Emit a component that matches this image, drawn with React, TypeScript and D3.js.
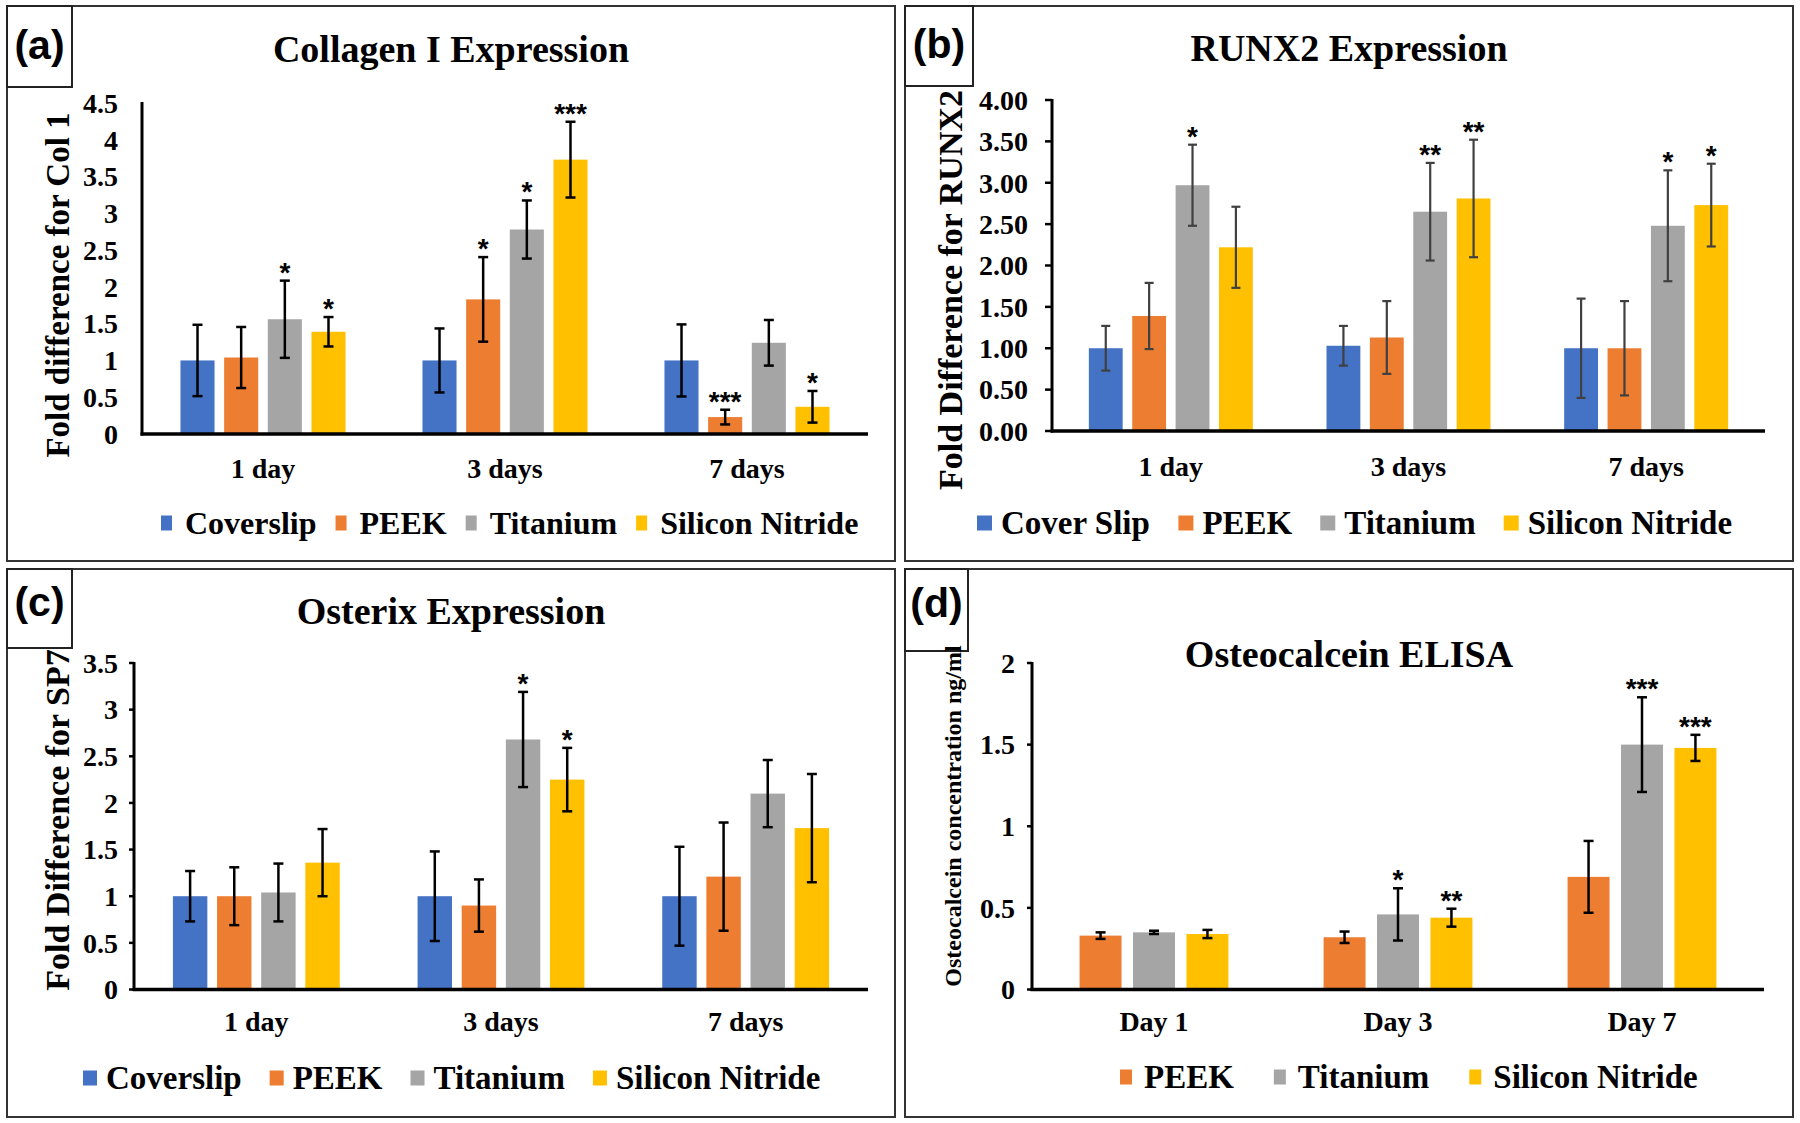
import React from "react";
import * as d3 from "d3";

// ---------- colours ----------
const C_COVER = "#4472C4";
const C_PEEK = "#ED7D31";
const C_TI = "#A5A5A5";
const C_SIN = "#FFC000";

// ---------- panel (a) Collagen I ----------
const daysA = ["1 day", "3 days", "7 days"];
const colCoverslip = [1.0, 1.0, 1.0];
const colPeek = [1.04, 1.83, 0.23];
const colTitanium = [1.56, 2.78, 1.24];
const colSiN = [1.39, 3.73, 0.37];
const colCoverslipErr = [0.485, 0.435, 0.49];
const colPeekErr = [0.415, 0.575, 0.1];
const colTitaniumErr = [0.525, 0.395, 0.31];
const colSiNErr = [0.2, 0.515, 0.215];
const colCoverslipSig = ["", "", ""];
const colPeekSig = ["", "*", "***"];
const colTitaniumSig = ["*", "*", ""];
const colSiNSig = ["*", "***", "*"];
const colTicks = [0, 0.5, 1, 1.5, 2, 2.5, 3, 3.5, 4, 4.5];

// ---------- panel (b) RUNX2 ----------
const daysB = ["1 day", "3 days", "7 days"];
const runxCoverSlip = [1.0, 1.03, 1.0];
const runxPeek = [1.39, 1.13, 1.0];
const runxTitanium = [2.97, 2.65, 2.48];
const runxSiN = [2.22, 2.81, 2.73];
const runxCoverSlipErr = [0.27, 0.24, 0.6];
const runxPeekErr = [0.4, 0.44, 0.57];
const runxTitaniumErr = [0.49, 0.59, 0.67];
const runxSiNErr = [0.49, 0.71, 0.5];
const runxCoverSlipSig = ["", "", ""];
const runxPeekSig = ["", "", ""];
const runxTitaniumSig = ["*", "**", "*"];
const runxSiNSig = ["", "**", "*"];
const runxTicks = [0, 0.5, 1, 1.5, 2, 2.5, 3, 3.5, 4];

// ---------- panel (c) Osterix ----------
const daysC = ["1 day", "3 days", "7 days"];
const spCoverslip = [1.0, 1.0, 1.0];
const spPeek = [1.0, 0.9, 1.21];
const spTitanium = [1.04, 2.68, 2.1];
const spSiN = [1.36, 2.25, 1.73];
const spCoverslipErr = [0.27, 0.48, 0.53];
const spPeekErr = [0.31, 0.28, 0.58];
const spTitaniumErr = [0.31, 0.51, 0.36];
const spSiNErr = [0.36, 0.34, 0.58];
const spCoverslipSig = ["", "", ""];
const spPeekSig = ["", "", ""];
const spTitaniumSig = ["", "*", ""];
const spSiNSig = ["", "*", ""];
const spTicks = [0, 0.5, 1, 1.5, 2, 2.5, 3, 3.5];

// ---------- panel (d) Osteocalcein ELISA ----------
const daysD = ["Day 1", "Day 3", "Day 7"];
const ocPeek = [0.33, 0.32, 0.69];
const ocTitanium = [0.35, 0.46, 1.5];
const ocSiN = [0.34, 0.44, 1.48];
const ocPeekErr = [0.02, 0.035, 0.22];
const ocTitaniumErr = [0.01, 0.16, 0.29];
const ocSiNErr = [0.025, 0.055, 0.08];
const ocPeekSig = ["", "", ""];
const ocTitaniumSig = ["", "*", "***"];
const ocSiNSig = ["", "**", "***"];
const ocTicks = [0, 0.5, 1, 1.5, 2];

const SERIF = "'Liberation Serif', 'Times New Roman', serif";
const SANS = "'Liberation Sans', Arial, sans-serif";

let measureCtx: CanvasRenderingContext2D | null = null;
function textWidth(t: string, size: number): number {
  if (!measureCtx && typeof document !== "undefined") {
    measureCtx = document.createElement("canvas").getContext("2d");
  }
  if (!measureCtx) return t.length * size * 0.5;
  measureCtx.font = `bold ${size}px ${SERIF}`;
  return measureCtx.measureText(t).width;
}

type Series = { name: string; color: string; values: number[]; errors: number[]; sig: string[] };

type PanelSpec = {
  frame: [number, number, number, number];
  letter: string;
  letterBox: [number, number, number, number];
  letterBaseline: number;
  title: string;
  titleBaseline: number;
  ylabel: string;
  ylabelX: number;
  ylabelY: number;
  ylabelSize: number;
  cats: string[];
  series: Series[];
  yMax: number;
  ticks: number[];
  tickFmt: (v: number) => string;
  axisX: number;
  axisRight: number;
  axisTop: number;
  axisBottom: number;
  padIn: number;
  padOut: number;
  barPad: number;
  tickLen: number;
  tickGap: number;
  errColor: string;
  errWidth: number;
  capHalf: number;
  xLabelBaseline: number;
  legend: { x: number; cy: number; mw: number; mh: number; tgap: number; igap: number; size: number };
};

function Panel({ p }: { p: PanelSpec }) {
  const x0 = d3
    .scaleBand<string>()
    .domain(p.cats)
    .range([p.axisX, p.axisRight])
    .paddingInner(p.padIn)
    .paddingOuter(p.padOut);
  const x1 = d3
    .scaleBand<string>()
    .domain(p.series.map((s) => s.name))
    .range([0, x0.bandwidth()])
    .paddingInner(p.barPad);
  const y = d3.scaleLinear().domain([0, p.yMax]).range([p.axisBottom, p.axisTop]);
  const [fx0, fy0, fx1, fy1] = p.frame;
  const [lx0, ly0, lx1, ly1] = p.letterBox;

  // legend layout
  let lx = p.legend.x;
  const legendItems = p.series.map((s) => {
    const item = { s, mx: lx, tx: lx + p.legend.mw + p.legend.tgap };
    lx = item.tx + textWidth(s.name, p.legend.size) + p.legend.igap;
    return item;
  });

  return (
    <g>
      <rect x={fx0} y={fy0} width={fx1 - fx0} height={fy1 - fy0} fill="white" stroke="#333" strokeWidth={2} />
      <rect x={lx0} y={ly0} width={lx1 - lx0} height={ly1 - ly0} fill="white" stroke="#222" strokeWidth={2} />
      <text
        x={(lx0 + lx1) / 2}
        y={p.letterBaseline}
        textAnchor="middle"
        fontFamily={SANS}
        fontWeight="bold"
        fontSize={41}
      >
        {p.letter}
      </text>
      <text
        x={(fx0 + fx1) / 2}
        y={p.titleBaseline}
        textAnchor="middle"
        fontFamily={SERIF}
        fontWeight="bold"
        fontSize={38}
      >
        {p.title}
      </text>
      <text
        transform={`translate(${p.ylabelX},${p.ylabelY}) rotate(-90)`}
        textAnchor="middle"
        dy="0.35em"
        fontFamily={SERIF}
        fontWeight="bold"
        fontSize={p.ylabelSize}
      >
        {p.ylabel}
      </text>
      {/* y ticks */}
      {p.ticks.map((t) => (
        <g key={t}>
          {p.tickLen > 0 && (
            <line x1={p.axisX - p.tickLen} x2={p.axisX} y1={y(t)} y2={y(t)} stroke="#000" strokeWidth={2.5} />
          )}
          <text
            x={p.axisX - p.tickGap}
            y={y(t)}
            dy="0.35em"
            textAnchor="end"
            fontFamily={SERIF}
            fontWeight="bold"
            fontSize={28}
          >
            {p.tickFmt(t)}
          </text>
        </g>
      ))}
      {/* bars */}
      {p.series.map((s) =>
        p.cats.map((c, i) => {
          const bx = (x0(c) as number) + (x1(s.name) as number);
          const bw = x1.bandwidth();
          return (
            <rect key={s.name + c} x={bx} y={y(s.values[i])} width={bw} height={y(0) - y(s.values[i])} fill={s.color} />
          );
        })
      )}
      {/* error bars and significance */}
      {p.series.map((s) =>
        p.cats.map((c, i) => {
          const cx = (x0(c) as number) + (x1(s.name) as number) + x1.bandwidth() / 2;
          const top = y(s.values[i] + s.errors[i]);
          const bot = y(s.values[i] - s.errors[i]);
          return (
            <g key={"e" + s.name + c}>
              <line x1={cx} x2={cx} y1={top} y2={bot} stroke={p.errColor} strokeWidth={p.errWidth} />
              <line x1={cx - p.capHalf} x2={cx + p.capHalf} y1={top} y2={top} stroke={p.errColor} strokeWidth={p.errWidth} />
              <line x1={cx - p.capHalf} x2={cx + p.capHalf} y1={bot} y2={bot} stroke={p.errColor} strokeWidth={p.errWidth} />
              {s.sig[i] && (
                <text x={cx} y={top + 1} textAnchor="middle" fontFamily={SANS} fontWeight="bold" fontSize={28}>
                  {s.sig[i]}
                </text>
              )}
            </g>
          );
        })
      )}
      {/* axes */}
      <line x1={p.axisX} x2={p.axisX} y1={p.axisTop - 1} y2={p.axisBottom + 1.5} stroke="#000" strokeWidth={3} />
      <line x1={p.axisX - 1.5} x2={p.axisRight} y1={p.axisBottom} y2={p.axisBottom} stroke="#000" strokeWidth={3.5} />
      {p.cats.map((c) => (
        <text
          key={c}
          x={(x0(c) as number) + x0.bandwidth() / 2}
          y={p.xLabelBaseline}
          textAnchor="middle"
          fontFamily={SERIF}
          fontWeight="bold"
          fontSize={28}
        >
          {c}
        </text>
      ))}
      {/* legend */}
      {legendItems.map(({ s, mx, tx }) => (
        <g key={"l" + s.name}>
          <rect x={mx} y={p.legend.cy - p.legend.mh / 2} width={p.legend.mw} height={p.legend.mh} fill={s.color} />
          <text
            x={tx}
            y={p.legend.cy}
            dy="0.33em"
            fontFamily={SERIF}
            fontWeight="bold"
            fontSize={p.legend.size}
          >
            {s.name}
          </text>
        </g>
      ))}
    </g>
  );
}

const fmt1 = (v: number) => String(v);
const fmt2 = (v: number) => v.toFixed(2);

const panels: PanelSpec[] = [
  {
    frame: [7, 6, 895, 561],
    letter: "(a)",
    letterBox: [7, 6, 72, 87],
    letterBaseline: 59,
    title: "Collagen I Expression",
    titleBaseline: 62,
    ylabel: "Fold difference for Col 1",
    ylabelX: 57,
    ylabelY: 285,
    ylabelSize: 33,
    cats: daysA,
    series: [
      { name: "Coverslip", color: C_COVER, values: colCoverslip, errors: colCoverslipErr, sig: colCoverslipSig },
      { name: "PEEK", color: C_PEEK, values: colPeek, errors: colPeekErr, sig: colPeekSig },
      { name: "Titanium", color: C_TI, values: colTitanium, errors: colTitaniumErr, sig: colTitaniumSig },
      { name: "Silicon Nitride", color: C_SIN, values: colSiN, errors: colSiNErr, sig: colSiNSig },
    ],
    yMax: 4.5,
    ticks: colTicks,
    tickFmt: fmt1,
    axisX: 142,
    axisRight: 868,
    axisTop: 103,
    axisBottom: 434,
    padIn: 0.318,
    padOut: 0.159,
    barPad: 0.22,
    tickLen: 0,
    tickGap: 24,
    errColor: "#000",
    errWidth: 2.5,
    capHalf: 5,
    xLabelBaseline: 478,
    legend: { x: 161, cy: 523, mw: 11, mh: 15, tgap: 13, igap: 19, size: 32 },
  },
  {
    frame: [905, 6, 1793, 561],
    letter: "(b)",
    letterBox: [905, 6, 973, 86],
    letterBaseline: 58,
    title: "RUNX2 Expression",
    titleBaseline: 61,
    ylabel: "Fold Difference for RUNX2",
    ylabelX: 950,
    ylabelY: 290,
    ylabelSize: 34,
    cats: daysB,
    series: [
      { name: "Cover Slip", color: C_COVER, values: runxCoverSlip, errors: runxCoverSlipErr, sig: runxCoverSlipSig },
      { name: "PEEK", color: C_PEEK, values: runxPeek, errors: runxPeekErr, sig: runxPeekSig },
      { name: "Titanium", color: C_TI, values: runxTitanium, errors: runxTitaniumErr, sig: runxTitaniumSig },
      { name: "Silicon Nitride", color: C_SIN, values: runxSiN, errors: runxSiNErr, sig: runxSiNSig },
    ],
    yMax: 4,
    ticks: runxTicks,
    tickFmt: fmt2,
    axisX: 1052,
    axisRight: 1765,
    axisTop: 100,
    axisBottom: 431,
    padIn: 0.31,
    padOut: 0.155,
    barPad: 0.22,
    tickLen: 7,
    tickGap: 24,
    errColor: "#404040",
    errWidth: 2.2,
    capHalf: 4.5,
    xLabelBaseline: 476,
    legend: { x: 977, cy: 523, mw: 15, mh: 15, tgap: 9, igap: 28, size: 33 },
  },
  {
    frame: [7, 569, 895, 1117],
    letter: "(c)",
    letterBox: [7, 569, 72, 648],
    letterBaseline: 616,
    title: "Osterix Expression",
    titleBaseline: 624,
    ylabel: "Fold Difference for SP7",
    ylabelX: 57,
    ylabelY: 820,
    ylabelSize: 34,
    cats: daysC,
    series: [
      { name: "Coverslip", color: C_COVER, values: spCoverslip, errors: spCoverslipErr, sig: spCoverslipSig },
      { name: "PEEK", color: C_PEEK, values: spPeek, errors: spPeekErr, sig: spPeekSig },
      { name: "Titanium", color: C_TI, values: spTitanium, errors: spTitaniumErr, sig: spTitaniumSig },
      { name: "Silicon Nitride", color: C_SIN, values: spSiN, errors: spSiNErr, sig: spSiNSig },
    ],
    yMax: 3.5,
    ticks: spTicks,
    tickFmt: fmt1,
    axisX: 134,
    axisRight: 868,
    axisTop: 663,
    axisBottom: 989.5,
    padIn: 0.318,
    padOut: 0.159,
    barPad: 0.22,
    tickLen: 5,
    tickGap: 16,
    errColor: "#000",
    errWidth: 2.5,
    capHalf: 5,
    xLabelBaseline: 1031,
    legend: { x: 83, cy: 1078, mw: 14, mh: 15, tgap: 9, igap: 28, size: 33 },
  },
  {
    frame: [905, 569, 1793, 1117],
    letter: "(d)",
    letterBox: [905, 569, 968, 651],
    letterBaseline: 617,
    title: "Osteocalcein ELISA",
    titleBaseline: 667,
    ylabel: "Osteocalcein concentration ng/ml",
    ylabelX: 953,
    ylabelY: 816,
    ylabelSize: 24,
    cats: daysD,
    series: [
      { name: "PEEK", color: C_PEEK, values: ocPeek, errors: ocPeekErr, sig: ocPeekSig },
      { name: "Titanium", color: C_TI, values: ocTitanium, errors: ocTitaniumErr, sig: ocTitaniumSig },
      { name: "Silicon Nitride", color: C_SIN, values: ocSiN, errors: ocSiNErr, sig: ocSiNSig },
    ],
    yMax: 2,
    ticks: ocTicks,
    tickFmt: fmt1,
    axisX: 1032,
    axisRight: 1764,
    axisTop: 663,
    axisBottom: 989.5,
    padIn: 0.39,
    padOut: 0.195,
    barPad: 0.215,
    tickLen: 5,
    tickGap: 17,
    errColor: "#000",
    errWidth: 2.5,
    capHalf: 5,
    xLabelBaseline: 1031,
    legend: { x: 1120, cy: 1077, mw: 12, mh: 15, tgap: 12, igap: 40, size: 33 },
  },
];

export default function App() {
  return (
    <div style={{ position: "absolute", left: 0, top: 0, width: 1800, height: 1123, background: "white" }}>
      <svg width={1800} height={1123} viewBox="0 0 1800 1123" style={{ display: "block" }}>
        <rect x={0} y={0} width={1800} height={1123} fill="white" />
        {panels.map((p) => (
          <Panel key={p.letter} p={p} />
        ))}
      </svg>
    </div>
  );
}
